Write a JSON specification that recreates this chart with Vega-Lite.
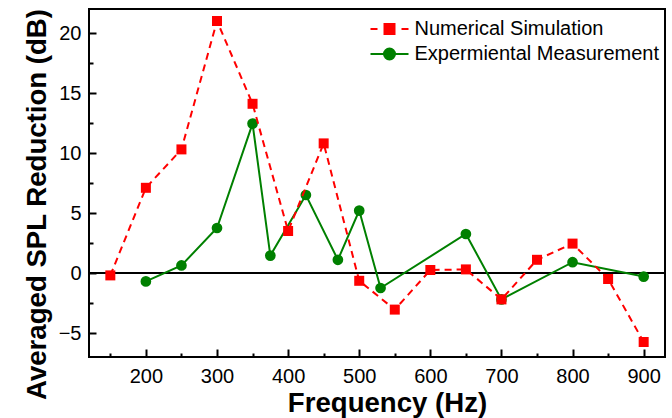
{
  "$schema": "https://vega.github.io/schema/vega-lite/v6.json",
  "width": 576,
  "height": 348,
  "autosize": "none",
  "padding": {"left": 89, "top": 9, "right": 7, "bottom": 61},
  "background": "white",
  "config": {
    "view": {"stroke": "black", "strokeWidth": 2},
    "font": "Liberation Sans",
    "axis": {"domain": false, "grid": false, "tickColor": "black", "labelColor": "black", "titleColor": "black", "labelFont": "Liberation Sans", "titleFont": "Liberation Sans"},
    "legend": {"orient": "none", "legendX": 289.5, "legendY": 9, "padding": 0, "symbolSize": 400, "labelFontSize": 20, "labelFont": "Liberation Sans", "labelColor": "black", "labelOffset": 14, "labelLimit": 400, "rowPadding": 4, "symbolStrokeWidth": 2, "title": null}
  },
  "data": {
    "values": [
      {"freq": 150, "spl": -0.2, "series": "Numerical Simulation"},
      {"freq": 200, "spl": 7.1, "series": "Numerical Simulation"},
      {"freq": 250, "spl": 10.3, "series": "Numerical Simulation"},
      {"freq": 300, "spl": 21.0, "series": "Numerical Simulation"},
      {"freq": 350, "spl": 14.1, "series": "Numerical Simulation"},
      {"freq": 400, "spl": 3.5, "series": "Numerical Simulation"},
      {"freq": 450, "spl": 10.8, "series": "Numerical Simulation"},
      {"freq": 500, "spl": -0.65, "series": "Numerical Simulation"},
      {"freq": 550, "spl": -3.05, "series": "Numerical Simulation"},
      {"freq": 600, "spl": 0.25, "series": "Numerical Simulation"},
      {"freq": 650, "spl": 0.3, "series": "Numerical Simulation"},
      {"freq": 700, "spl": -2.2, "series": "Numerical Simulation"},
      {"freq": 750, "spl": 1.1, "series": "Numerical Simulation"},
      {"freq": 800, "spl": 2.45, "series": "Numerical Simulation"},
      {"freq": 850, "spl": -0.5, "series": "Numerical Simulation"},
      {"freq": 900, "spl": -5.75, "series": "Numerical Simulation"},
      {"freq": 200, "spl": -0.7, "series": "Expermiental Measurement"},
      {"freq": 250, "spl": 0.63, "series": "Expermiental Measurement"},
      {"freq": 300, "spl": 3.75, "series": "Expermiental Measurement"},
      {"freq": 350, "spl": 12.45, "series": "Expermiental Measurement"},
      {"freq": 375, "spl": 1.45, "series": "Expermiental Measurement"},
      {"freq": 425, "spl": 6.5, "series": "Expermiental Measurement"},
      {"freq": 470, "spl": 1.1, "series": "Expermiental Measurement"},
      {"freq": 500, "spl": 5.2, "series": "Expermiental Measurement"},
      {"freq": 530, "spl": -1.25, "series": "Expermiental Measurement"},
      {"freq": 650, "spl": 3.25, "series": "Expermiental Measurement"},
      {"freq": 700, "spl": -2.2, "series": "Expermiental Measurement"},
      {"freq": 800, "spl": 0.9, "series": "Expermiental Measurement"},
      {"freq": 900, "spl": -0.3, "series": "Expermiental Measurement"}
    ]
  },
  "encoding": {
    "x": {
      "field": "freq", "type": "quantitative",
      "scale": {"domain": [120, 930], "nice": false, "zero": false},
      "axis": {
        "title": "Frequency (Hz)",
        "values": [150, 200, 250, 300, 350, 400, 450, 500, 550, 600, 650, 700, 750, 800, 850, 900],
        "labelExpr": "datum.value % 100 === 0 ? datum.label : ''",
        "labelFontSize": 20, "labelPadding": 17, "labelFlush": false,
        "tickSize": {"condition": {"test": "datum.value % 100 === 0", "value": -8}, "value": -4},
        "tickWidth": 2,
        "titleFontSize": 27.6, "titleFontWeight": "bold",
        "titleX": 298, "titleY": 54, "titleBaseline": "alphabetic", "titleAlign": "center"
      }
    },
    "y": {
      "field": "spl", "type": "quantitative",
      "scale": {"domain": [-7, 22], "nice": false, "zero": false},
      "axis": {
        "title": "Averaged SPL Reduction (dB)",
        "values": [-5, -2.5, 0, 2.5, 5, 7.5, 10, 12.5, 15, 17.5, 20],
        "labelExpr": "datum.value % 5 === 0 ? datum.label : ''",
        "labelFontSize": 20, "labelPadding": 15, "labelFlush": false,
        "tickSize": {"condition": {"test": "datum.value % 5 === 0", "value": -7}, "value": -4},
        "tickWidth": 2,
        "titleFontSize": 27.6, "titleFontWeight": "bold",
        "titleAngle": -90, "titleX": -44, "titleY": 195, "titleBaseline": "alphabetic", "titleAlign": "center"
      }
    }
  },
  "layer": [
    {
      "mark": {"type": "rule", "color": "black", "strokeWidth": 2},
      "encoding": {"y": {"datum": 0}, "x": null}
    },
    {
      "transform": [{"filter": "datum.series === 'Expermiental Measurement'"}],
      "mark": {"type": "line", "color": "#008000", "strokeWidth": 2}
    },
    {
      "transform": [{"filter": "datum.series === 'Expermiental Measurement'"}],
      "mark": {"type": "point", "shape": "circle", "filled": true, "color": "#008000", "size": 115, "opacity": 1}
    },
    {
      "transform": [{"filter": "datum.series === 'Numerical Simulation'"}],
      "mark": {"type": "line", "color": "#ff0000", "strokeWidth": 2, "strokeDash": [7, 5]}
    },
    {
      "transform": [{"filter": "datum.series === 'Numerical Simulation'"}],
      "mark": {"type": "point", "shape": "square", "filled": true, "color": "#ff0000", "size": 100, "opacity": 1}
    },
    {
      "transform": [{"filter": "false"}],
      "mark": {"type": "point", "filled": true, "opacity": 1, "strokeWidth": 2},
      "encoding": {
        "fill": {"field": "series", "type": "nominal", "title": null,
          "scale": {"domain": ["Numerical Simulation", "Expermiental Measurement"], "range": ["#ff0000", "#008000"]}},
        "stroke": {"field": "series", "type": "nominal", "title": null,
          "scale": {"domain": ["Numerical Simulation", "Expermiental Measurement"], "range": ["#ff0000", "#008000"]}},
        "shape": {"field": "series", "type": "nominal", "title": null,
          "scale": {"domain": ["Numerical Simulation", "Expermiental Measurement"], "range": [
            "M-1.9,0L-1.2,0M-0.5,-0.5L0.5,-0.5L0.5,0.5L-0.5,0.5ZM1.2,0L1.9,0",
            "M-1.9,0L1.9,0M0.55,0A0.55,0.55 0 1,1 -0.55,0A0.55,0.55 0 1,1 0.55,0Z"
          ]}}
      }
    }
  ]
}
